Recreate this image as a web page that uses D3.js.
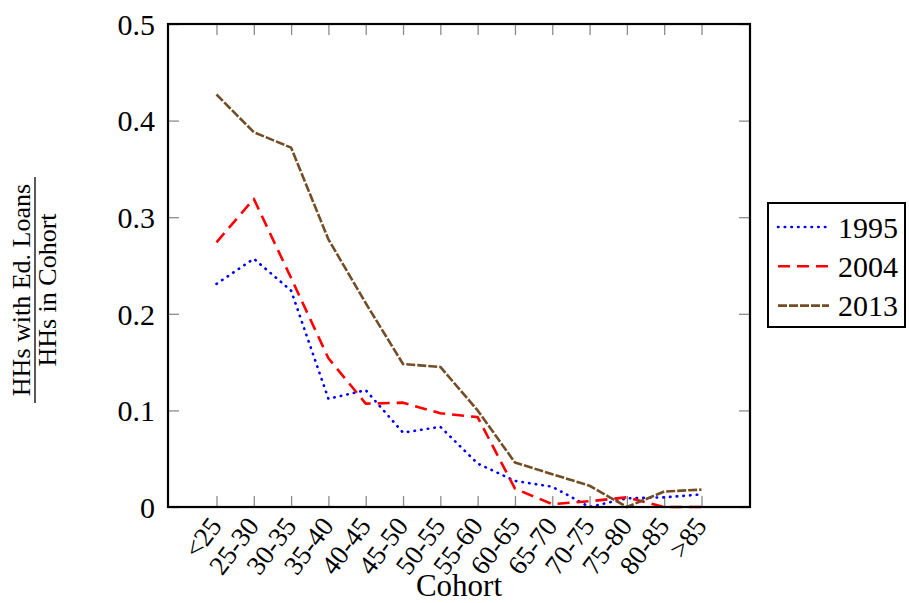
<!DOCTYPE html>
<html>
<head>
<meta charset="utf-8">
<script src="https://cdn.jsdelivr.net/npm/d3@7"></script>
<style>
  body { margin: 0; background: #fff; }
  text { font-family: "Liberation Serif", "Times New Roman", serif; fill: #000; }
</style>
</head>
<body>
<div id="chart"></div>
<script>
// cohorts on the x axis
const cohorts = ["<25", "25-30", "30-35", "35-40", "40-45", "45-50", "50-55",
  "55-60", "60-65", "65-70", "70-75", "75-80", "80-85", ">85"];

// share of households with education loans
const y1995 = [0.231, 0.257, 0.224, 0.112, 0.121, 0.077, 0.083, 0.045, 0.027, 0.021, 0.000, 0.009, 0.010, 0.013];
const y2004 = [0.274, 0.319, 0.237, 0.154, 0.107, 0.108, 0.097, 0.093, 0.019, 0.003, 0.006, 0.010, 0.000, 0.000];
const y2013 = [0.427, 0.388, 0.372, 0.277, 0.211, 0.148, 0.145, 0.100, 0.046, 0.034, 0.022, 0.000, 0.016, 0.018];

const yTicks = [0, 0.1, 0.2, 0.3, 0.4, 0.5];

const series = [
  {name: "1995", values: y1995, color: "#0000ff", dash: "0.5,6.2", cap: "round", w: 2.6},
  {name: "2004", values: y2004, color: "#ff0000", dash: "12,7", cap: "butt", w: 2.6},
  {name: "2013", values: y2013, color: "#734d26", dash: "9,2", cap: "butt", w: 2.6}
];

const width = 909, height = 603;
const margin = {top: 24, right: 159, bottom: 96, left: 168};

const svg = d3.select("#chart")
  .append("svg")
  .attr("width", width)
  .attr("height", height);

/* x is the cohort index, padded like pgfplots' enlarged limits */
const xScale = d3.scaleLinear()
  .domain([-1.3, cohorts.length - 1 + 1.3])
  .range([margin.left, width - margin.right]);

const yScale = d3.scaleLinear()
  .domain([0, 0.5])
  .range([height - margin.bottom, margin.top]);

const idx = d3.range(cohorts.length);
const tickLen = 11;

// ticks on all four sides, pointing inward
const styleTicks = g => {
  g.select(".domain").remove();
  g.selectAll(".tick line").attr("stroke", "#8c8c8c").attr("stroke-width", 1.3);
};

svg.append("g")
  .attr("transform", `translate(${margin.left},0)`)
  .call(d3.axisLeft(yScale).tickValues(yTicks).tickSize(-tickLen).tickPadding(13)
    .tickFormat(d => d === 0 ? "0" : d3.format(".1f")(d)))
  .call(styleTicks)
  .selectAll("text")
  .attr("font-size", "30px")
  .attr("font-family", "Liberation Serif")
  .attr("dy", "0.34em");

svg.append("g")
  .attr("transform", `translate(${width - margin.right},0)`)
  .call(d3.axisRight(yScale).tickValues(yTicks).tickSize(-tickLen).tickFormat(""))
  .call(styleTicks);

svg.append("g")
  .attr("transform", `translate(0,${margin.top})`)
  .call(d3.axisTop(xScale).tickValues(idx).tickSize(-tickLen).tickFormat(""))
  .call(styleTicks);

const xAxisG = svg.append("g")
  .attr("transform", `translate(0,${height - margin.bottom})`)
  .call(d3.axisBottom(xScale).tickValues(idx).tickSize(-tickLen).tickFormat(i => cohorts[i]))
  .call(styleTicks);

xAxisG.selectAll("text")
  .attr("font-size", "27px")
  .attr("font-family", "Liberation Serif")
  .attr("text-anchor", "end")
  .attr("y", 0)
  .attr("dy", "0.32em")
  .attr("transform", "translate(-1,14) rotate(-53)");

// lines
const line = d3.line()
  .x((d, i) => xScale(i))
  .y(d => yScale(d));

svg.append("g")
  .selectAll("path")
  .data(series)
  .join("path")
  .attr("d", d => line(d.values))
  .attr("fill", "none")
  .attr("stroke", d => d.color)
  .attr("stroke-width", d => d.w)
  .attr("stroke-dasharray", d => d.dash)
  .attr("stroke-linecap", d => d.cap)
  .attr("stroke-linejoin", "round");

// frame
svg.append("rect")
  .attr("x", margin.left)
  .attr("y", margin.top)
  .attr("width", width - margin.left - margin.right)
  .attr("height", height - margin.top - margin.bottom)
  .attr("fill", "none")
  .attr("stroke", "#000")
  .attr("stroke-width", 2.2);

// axis labels
svg.append("text")
  .attr("x", 459)
  .attr("y", 596)
  .attr("text-anchor", "middle")
  .attr("font-size", "31px")
  .text("Cohort");

const yl = svg.append("g").attr("transform", "translate(0,290) rotate(-90)");
yl.append("text")
  .attr("x", 0).attr("y", 30)
  .attr("text-anchor", "middle")
  .attr("font-size", "26px")
  .text("HHs with Ed. Loans");
yl.append("line")
  .attr("x1", -113).attr("x2", 113)
  .attr("y1", 35).attr("y2", 35)
  .attr("stroke", "#000").attr("stroke-width", 1.3);
yl.append("text")
  .attr("x", 0).attr("y", 56)
  .attr("text-anchor", "middle")
  .attr("font-size", "26px")
  .text("HHs in Cohort");

// legend
const legend = svg.append("g").attr("transform", "translate(768,203)");
legend.append("rect")
  .attr("width", 137).attr("height", 124)
  .attr("fill", "#fff").attr("stroke", "#000").attr("stroke-width", 2);

const item = legend.selectAll("g.item")
  .data(series)
  .join("g")
  .attr("class", "item")
  .attr("transform", (d, i) => `translate(0,${24 + i * 39.3})`);

item.append("line")
  .attr("x1", 10).attr("x2", 61)
  .attr("stroke", d => d.color)
  .attr("stroke-width", d => d.w)
  .attr("stroke-dasharray", d => d.dash)
  .attr("stroke-linecap", d => d.cap);

item.append("text")
  .attr("x", 70)
  .attr("dy", "0.35em")
  .attr("font-size", "30px")
  .text(d => d.name);
</script>
</body>
</html>
